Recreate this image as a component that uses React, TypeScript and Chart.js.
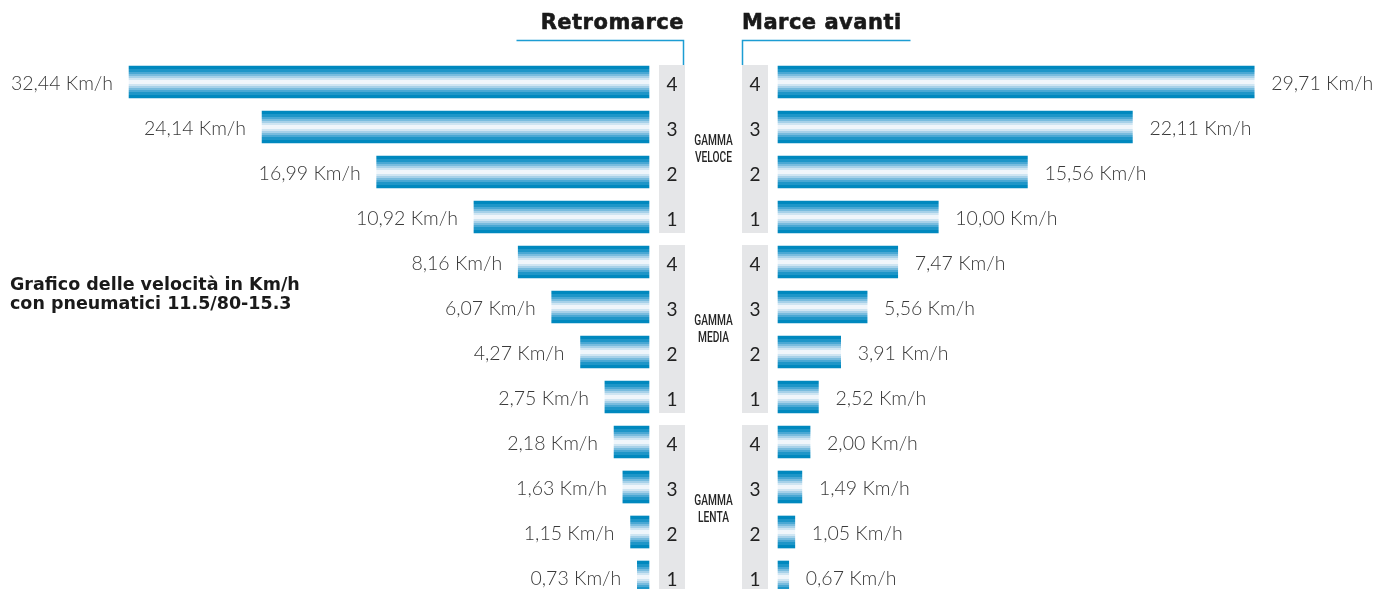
import React, { useEffect, useRef } from 'react';
import { Chart, registerables } from 'chart.js';

Chart.register(...registerables);

// ---- data ----
const GEARS = ['4', '3', '2', '1', '4', '3', '2', '1', '4', '3', '2', '1'];
const RANGES = ['VELOCE', 'MEDIA', 'LENTA'];
const RETRO = [32.44, 24.14, 16.99, 10.92, 8.16, 6.07, 4.27, 2.75, 2.18, 1.63, 1.15, 0.73];
const AVANTI = [29.71, 22.11, 15.56, 10.0, 7.47, 5.56, 3.91, 2.52, 2.0, 1.49, 1.05, 0.67];
const CATEGORIES = GEARS.map((g, i) => `${RANGES[Math.floor(i / 4)]} ${g}`);
const UNIT = ' Km/h';
const TITLE_LEFT = 'Retromarce';
const TITLE_RIGHT = 'Marce avanti';
const CAPTION = ['Grafico delle velocità in Km/h', 'con pneumatici 11.5/80-15.3'];

// ---- layout / style ----
const W = 1375;
const H = 589;
const PAD_L = 88;
const PAD_R = 36;
const PAD_T = 82;
const PAD_B = 12;
const GAP = 129;
const AXIS_MAX = 35;
const K = (W - PAD_L - PAD_R - GAP) / (2 * AXIS_MAX);
const AXIS_MIN = -(AXIS_MAX + GAP / K);
const BAR = 32;
// stripe colours from edge to centre, with relative band widths
const STRIPES = ['#0088be', '#1e96c8', '#49a8d4', '#78bcde', '#a6d1e9', '#cfe5f2', '#f0f6fb'];
const STRIPE_W = [1.6, 1, 1, 1, 1, 1, 1.6];
const BANDS = [...STRIPES, ...STRIPES.slice(0, -1).reverse()];
const BAND_W = [...STRIPE_W, ...STRIPE_W.slice(0, -1).reverse()];
const BLUE = '#1c9dd3';
const GREY = '#e5e6e8';

const fmt = (v: number) => v.toFixed(2).replace('.', ',') + UNIT;

function barFill(ctx: any) {
  if (ctx.type !== 'data') return STRIPES[0];
  const chart = ctx.chart;
  const y = chart.scales.y;
  if (!y) return STRIPES[0];
  const c = y.getPixelForValue(ctx.dataIndex);
  if (!Number.isFinite(c)) return STRIPES[0];
  const g = chart.ctx.createLinearGradient(0, c - BAR / 2, 0, c + BAR / 2);
  const total = BAND_W.reduce((a, b) => a + b, 0);
  let acc = 0;
  BANDS.forEach((col, i) => {
    const s = acc / total;
    acc += BAND_W[i];
    const e = Math.min(1, acc / total);
    g.addColorStop(s, col);
    g.addColorStop(Math.max(s, e - 0.0001), col);
  });
  g.addColorStop(1, BANDS[BANDS.length - 1]);
  return g;
}

const decor = {
  id: 'decor',
  beforeDatasetsDraw(chart: any) {
    const { ctx, scales } = chart;
    const y = scales.y;
    const x0L = scales.xL.getPixelForValue(0);
    const x0R = scales.xR.getPixelForValue(0);
    ctx.save();
    ctx.fillStyle = GREY;
    for (let g = 0; g < RANGES.length; g++) {
      const top = y.getPixelForValue(g * 4) - 17;
      const bot = y.getPixelForValue(g * 4 + 3) + 16;
      ctx.fillRect(x0L + 10, top, 26, bot - top);
      ctx.fillRect(x0R - 36, top, 26, bot - top);
    }
    // header lines
    const colTop = y.getPixelForValue(0) - 17;
    ctx.strokeStyle = BLUE;
    ctx.lineWidth = 1.5;
    ctx.beginPath();
    const lx = x0L + 34.5;
    ctx.moveTo(lx - 167, 40.5);
    ctx.lineTo(lx, 40.5);
    ctx.lineTo(lx, colTop);
    const rx = x0R - 35.5;
    ctx.moveTo(rx + 168, 40.5);
    ctx.lineTo(rx, 40.5);
    ctx.lineTo(rx, colTop);
    ctx.stroke();
    ctx.restore();
  },
  afterDatasetsDraw(chart: any) {
    const { ctx, scales } = chart;
    const y = scales.y;
    const xL = scales.xL;
    const xR = scales.xR;
    const x0L = xL.getPixelForValue(0);
    const x0R = xR.getPixelForValue(0);
    ctx.save();
    // value labels
    ctx.font = '300 19.5px Lato';
    ctx.fillStyle = '#3a3a3a';
    ctx.textBaseline = 'alphabetic';
    CATEGORIES.forEach((_, i) => {
      const c = y.getPixelForValue(i);
      ctx.textAlign = 'right';
      ctx.fillText(fmt(RETRO[i]), xL.getPixelForValue(RETRO[i]) - 16, c + 7.5);
      ctx.textAlign = 'left';
      ctx.fillText(fmt(AVANTI[i]), xR.getPixelForValue(AVANTI[i]) + 17, c + 7.5);
    });
    // gear numbers
    ctx.font = '400 19px Lato';
    ctx.fillStyle = '#222222';
    ctx.textAlign = 'center';
    GEARS.forEach((g, i) => {
      const c = y.getPixelForValue(i);
      ctx.fillText(g, x0L + 23, c + 8.5);
      ctx.fillText(g, x0R - 23, c + 8.5);
    });
    // range labels (condensed)
    ctx.font = '500 15px Roboto';
    ctx.fillStyle = '#262626';
    const mx = (x0L + x0R) / 2;
    RANGES.forEach((r, g) => {
      const c = (y.getPixelForValue(g * 4) + y.getPixelForValue(g * 4 + 3)) / 2;
      ctx.save();
      ctx.translate(mx, 0);
      ctx.scale(0.68, 1);
      ctx.fillText('GAMMA', 0, c - 5);
      ctx.fillText(r, 0, c + 12.5);
      ctx.restore();
    });
    ctx.restore();
  },
};

export default function App() {
  const ref = useRef<HTMLCanvasElement | null>(null);
  useEffect(() => {
    if (!ref.current) return;
    const chart = new Chart(ref.current, {
      type: 'bar',
      data: {
        labels: CATEGORIES,
        datasets: [
          { label: TITLE_LEFT, data: RETRO, xAxisID: 'xL', yAxisID: 'y', grouped: false, barThickness: BAR, backgroundColor: barFill, borderWidth: 0, clip: false } as any,
          { label: TITLE_RIGHT, data: AVANTI, xAxisID: 'xR', yAxisID: 'y', grouped: false, barThickness: BAR, backgroundColor: barFill, borderWidth: 0, clip: false } as any,
        ],
      },
      options: {
        indexAxis: 'y',
        responsive: false,
        animation: false,
        events: [],
        layout: { padding: { left: PAD_L, right: PAD_R, top: PAD_T, bottom: PAD_B } },
        plugins: { legend: { display: false }, tooltip: { enabled: false }, title: { display: false } },
        scales: {
          y: { type: 'category', offset: false, display: false, grid: { display: false } },
          xL: { type: 'linear', axis: 'x', position: 'bottom', reverse: true, min: AXIS_MIN, max: AXIS_MAX, display: false },
          xR: { type: 'linear', axis: 'x', position: 'bottom', min: AXIS_MIN, max: AXIS_MAX, display: false },
        },
      } as any,
      plugins: [decor],
    });
    return () => chart.destroy();
  }, []);

  const titleStyle: React.CSSProperties = {
    position: 'absolute',
    top: 12,
    fontFamily: '"DejaVu Sans", sans-serif',
    fontWeight: 'bold',
    fontSize: 21,
    lineHeight: '21px',
    letterSpacing: 0.5,
    color: '#1a1a1a',
    whiteSpace: 'nowrap',
    WebkitTextStroke: '0.6px #1a1a1a',
  } as React.CSSProperties;

  return (
    <div style={{ position: 'absolute', left: 0, top: 0, width: W, height: H, overflow: 'hidden', background: '#fff' }}>
      <canvas ref={ref} width={W} height={H} style={{ position: 'absolute', left: 0, top: 0, width: W, height: H }} />
      <div style={{ ...titleStyle, right: W - 684, textAlign: 'right' }}>{TITLE_LEFT}</div>
      <div style={{ ...titleStyle, left: 742 }}>{TITLE_RIGHT}</div>
      <div
        style={{
          position: 'absolute',
          left: 10,
          top: 275,
          fontFamily: '"DejaVu Sans", sans-serif',
          fontWeight: 'bold',
          fontSize: 17.5,
          lineHeight: '19px',
          color: '#1a1a1a',
          whiteSpace: 'nowrap',
        }}
      >
        {CAPTION.map((l) => (
          <div key={l}>{l}</div>
        ))}
      </div>
    </div>
  );
}
